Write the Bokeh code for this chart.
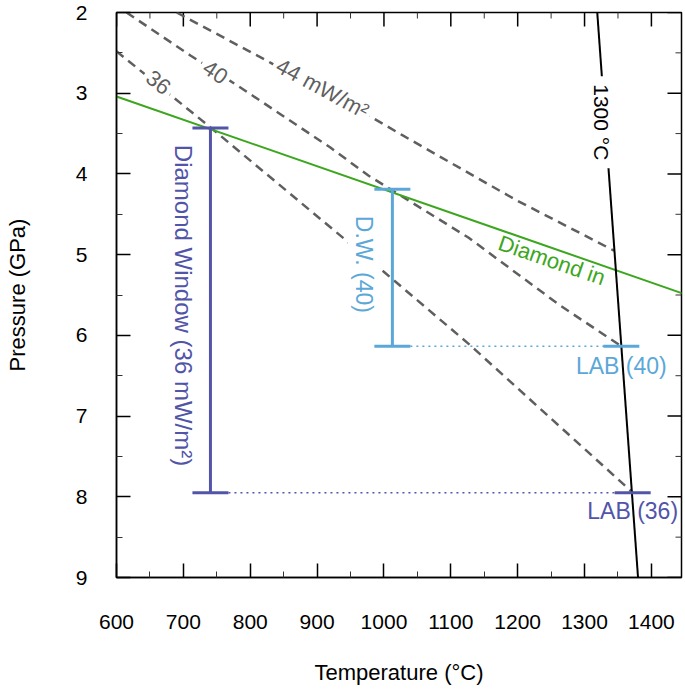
import math
from bokeh.plotting import figure
from bokeh.models import Range1d, FixedTicker
from bokeh.core.properties import value
from bokeh.embed import file_html
from bokeh.resources import INLINE

# ---------------- data ----------------
# geotherms (surface heat flow, mW/m^2): temperature (C) vs pressure (GPa)
geo36_T = [600, 740, 997.6, 1126.2, 1363.8, 1372]
geo36_P = [2.48, 3.42, 5.197, 6.102, 7.886, 7.95]
geo40_T = [615, 710.6, 780.9, 919.9, 976.7, 1126.2, 1263.7, 1355]
geo40_P = [2.0, 2.533, 2.905, 3.673, 4.02, 4.788, 5.631, 6.135]
geo44_T = [690, 830, 984, 1027.5, 1199, 1344]
geo44_P = [2.0, 2.62, 3.31, 3.52, 4.33, 4.95]

# graphite-diamond transition
gd_T = [600, 1450]
gd_P = [3.04, 5.49]

# 1300 C mantle adiabat
ad_T = [1319, 1380]
ad_P = [2.0, 9.0]

# diamond windows (36, 40) and LAB depths
win_T = [740.5, 1012.6]
win_top = [3.43, 4.19]
win_bot = [7.95, 6.135]
lab_T = [1372, 1355]
win_colors = ["#5254a8", "#5ba8d8"]

# labels
geo_lbl = ["36", "40", "44 mW/m\u00b2"]
geo_lbl_T = [662.8, 748, 908]
geo_lbl_P = [2.867, 2.74, 2.94]
geo_lbl_ang = [-38, -34, -28.5]

lab_lbl = ["LAB (36)", "LAB (40)"]
lab_lbl_P = [8.18, 6.374]

win_lbl = ["Diamond Window (36 mW/m\u00b2)", "D.W. (40)"]
win_lbl_T = [700, 970]
win_lbl_P = [5.63, 5.12]

# axes
x_lo, x_hi = 600, 1445
y_lo, y_hi = 2, 9
x_ticks = [600, 700, 800, 900, 1000, 1100, 1200, 1300, 1400]
x_minor = [650, 750, 850, 950, 1050, 1150, 1250, 1350]
y_ticks = [2, 3, 4, 5, 6, 7, 8, 9]
y_minor = [2.5, 3.5, 4.5, 5.5, 6.5, 7.5, 8.5]

FONT = "Liberation Sans"

p = figure(width=685, height=692,
           x_range=Range1d(x_lo, x_hi), y_range=Range1d(y_hi, y_lo),
           output_backend="svg", toolbar_location=None,
           min_border_left=116, min_border_top=12,
           min_border_right=4, min_border_bottom=115)

p.xgrid.grid_line_color = None
p.ygrid.grid_line_color = None
p.outline_line_color = "black"
p.outline_line_width = 1.5
p.background_fill_color = "white"
p.border_fill_color = "white"

p.xaxis.ticker = FixedTicker(ticks=x_ticks, minor_ticks=x_minor)
p.yaxis.ticker = FixedTicker(ticks=y_ticks, minor_ticks=y_minor)
for ax in (p.xaxis[0], p.yaxis[0]):
    ax.axis_line_color = "black"
    ax.axis_line_width = 1.5
    ax.major_tick_in = 14
    ax.major_tick_out = 0
    ax.minor_tick_in = 6
    ax.minor_tick_out = 0
    ax.major_tick_line_color = "black"
    ax.major_tick_line_width = 1.5
    ax.minor_tick_line_color = "#333333"
    ax.minor_tick_line_width = 1
    ax.major_label_text_font = FONT
    ax.major_label_text_color = "black"
    ax.major_label_text_font_size = "21px"
    ax.axis_label_text_font = FONT
    ax.axis_label_text_font_style = "normal"
    ax.axis_label_text_color = "black"
    ax.axis_label_text_font_size = "22px"
p.xaxis.axis_label = "Temperature (\u00b0C)"
p.yaxis.axis_label = "Pressure (GPa)"
p.xaxis.major_label_standoff = 37
p.yaxis.major_label_standoff = 29
p.xaxis.axis_label_standoff = 28
p.yaxis.axis_label_standoff = 43

# inward tick marks on the top and right frame edges (half of each dash is clipped)
p.scatter(x_ticks, [y_lo] * len(x_ticks), marker="dash", angle=math.pi / 2,
          size=28, line_color="black", line_width=1.5)
p.scatter(x_minor, [y_lo] * len(x_minor), marker="dash", angle=math.pi / 2,
          size=12, line_color="#333333", line_width=1)
p.scatter([x_hi] * len(y_ticks), y_ticks, marker="dash",
          size=28, line_color="black", line_width=1.5)
p.scatter([x_hi] * len(y_minor), y_minor, marker="dash",
          size=12, line_color="#333333", line_width=1)

# geotherms
GREY = "#5f5f5f"
for T, P in [(geo36_T, geo36_P), (geo40_T, geo40_P), (geo44_T, geo44_P)]:
    p.line(T, P, line_color=GREY, line_width=2.5, line_dash="9 6")

# graphite-diamond
GREEN = "#3ca61e"
p.line(gd_T, gd_P, line_color=GREEN, line_width=2)

# adiabat
p.line(ad_T, ad_P, line_color="black", line_width=2)

# geotherm labels with white backdrop (gaps in dashed lines)
p.text(geo_lbl_T, geo_lbl_P, text=geo_lbl,
       angle=[math.radians(a) for a in geo_lbl_ang],
       text_font=value(FONT), text_font_size="22px", text_color=GREY,
       text_align="center", text_baseline="middle",
       background_fill_color="white", padding=4)

p.text([1326], [3.36], text=["1300 \u00b0C"], angle=-math.pi / 2,
       text_font=value(FONT), text_font_size="21px", text_color="black",
       text_align="center", text_baseline="middle",
       background_fill_color="white", padding=8)

p.text([1251], [5.07], text=["Diamond in"], angle=math.radians(-19),
       text_font=value(FONT), text_font_size="22px", text_color=GREEN,
       text_align="center", text_baseline="middle")

# window labels (white backdrop breaks the dashed geotherm behind them)
p.text(win_lbl_T, win_lbl_P, text=win_lbl, angle=-math.pi / 2,
       text_font=value(FONT), text_font_size=["24px", "23px"], text_color=win_colors,
       text_align="center", text_baseline="middle",
       background_fill_color="white", padding=3)

# dotted links window bottom -> LAB
p.segment(x0=win_T, y0=win_bot, x1=lab_T, y1=win_bot,
          line_color=win_colors, line_width=1.5, line_dash="2 4")
# window bars
p.segment(x0=win_T, y0=win_top, x1=win_T, y1=win_bot,
          line_color=win_colors, line_width=3)
p.scatter(win_T, win_top, marker="dash", size=36, line_color=win_colors, line_width=3)
p.scatter(win_T, win_bot, marker="dash", size=36, line_color=win_colors, line_width=3)
p.scatter(lab_T, win_bot, marker="dash", size=36, line_color=win_colors, line_width=3)

p.text(lab_T, lab_lbl_P, text=lab_lbl,
       text_font=value(FONT), text_font_size="23px", text_color=win_colors,
       text_align="center", text_baseline="middle")

open("out.html", "w").write(file_html(p, INLINE))
